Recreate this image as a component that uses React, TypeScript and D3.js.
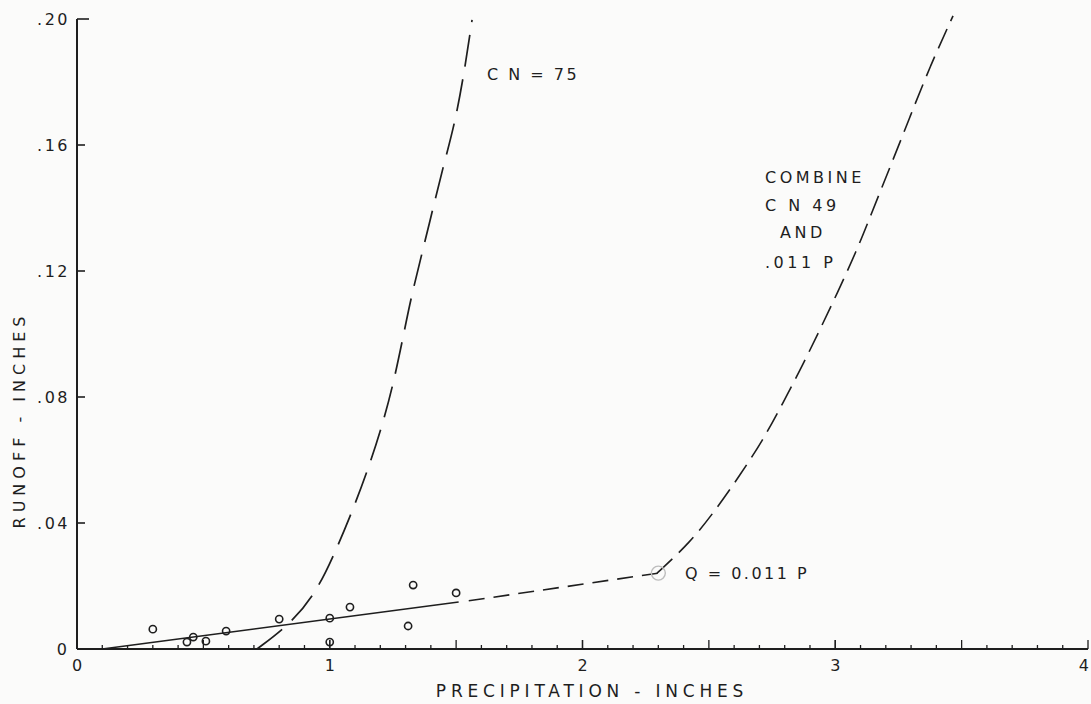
import * as d3 from 'd3';

// observed storms (precipitation, runoff) in inches
const observedP = [0.30, 0.435, 0.46, 0.51, 0.59, 0.80, 1.0, 1.0, 1.08, 1.31, 1.33, 1.50];
const observedQ = [0.0063, 0.0022, 0.0038, 0.0025, 0.0057, 0.0095, 0.0098, 0.0022, 0.0133, 0.0073, 0.0203, 0.0178];

// fitted line Q = 0.011 P (solid over the data, dashed beyond)
const fitSolidP = [0.1, 1.51];
const fitSolidQ = [0, 0.0149];
const fitDashP = [1.55, 2.3];
const fitDashQ = [0.0153, 0.0241];

// CN = 75 curve
const cn75P = [0.712, 0.855, 0.95, 1.013, 1.08, 1.147, 1.211, 1.258, 1.306, 1.329, 1.397, 1.448, 1.496, 1.536, 1.563];
const cn75Q = [0, 0.0086, 0.0187, 0.0292, 0.0419, 0.0559, 0.0717, 0.0863, 0.1054, 0.114, 0.136, 0.153, 0.167, 0.185, 0.1997];

// combined CN 49 and .011 P curve
const combP = [2.295, 2.425, 2.532, 2.623, 2.714, 2.793, 2.872, 2.94, 3.007, 3.086, 3.137, 3.217, 3.296, 3.375, 3.466];
const combQ = [0.0241, 0.0337, 0.0447, 0.0552, 0.0663, 0.0781, 0.0903, 0.1015, 0.1128, 0.1267, 0.137, 0.153, 0.169, 0.185, 0.201];

const xTicks = [0, 1, 2, 3, 4];
const xTickLabels = ['0', '1', '2', '3', '4'];
const yTicks = [0, 0.04, 0.08, 0.12, 0.16, 0.2];
const yTickLabels = ['0', '.04', '.08', '.12', '.16', '.20'];

const W = 1091;
const H = 704;
const ink = '#1e1e1e';
const font = '"DejaVu Sans", sans-serif';

const x = d3.scaleLinear().domain([0, 4]).range([77, 1088]);
const y = d3.scaleLinear().domain([0, 0.2]).range([649, 19]);

const line = d3.line<[number, number]>()
  .x(d => x(d[0]))
  .y(d => y(d[1]));

// hand-drawn curves: smooth through the read points
const smooth = d3.line<[number, number]>()
  .x(d => x(d[0]))
  .y(d => y(d[1]))
  .curve(d3.curveBasis);

const zip = (a: number[], b: number[]) => a.map((v, i) => [v, b[i]] as [number, number]);

const minorTicks = d3.range(1, 40).map(i => i / 10);

export default function App() {
  return (
    <svg width={W} height={H} style={{ position: 'absolute', left: 0, top: 0 }} fontFamily={font}>
      <rect width={W} height={H} fill="#fbfbfa" />

      {/* axes */}
      <line x1={x(0)} x2={x(0)} y1={y(0.2)} y2={y(0)} stroke={ink} strokeWidth={2} />
      <line x1={x(0)} x2={x(4)} y1={y(0)} y2={y(0)} stroke={ink} strokeWidth={2} />

      {yTicks.map((t, i) => (
        <g key={'y' + i}>
          {t > 0 && (
            <line x1={x(0)} x2={x(0) + (t === 0.2 ? 12 : 8)} y1={y(t)} y2={y(t)} stroke={ink} strokeWidth={1.6} />
          )}
          <text x={t === 0 ? 67 : 70} y={y(t)} dy="0.36em" textAnchor="end" fontSize={16}
            letterSpacing={t === 0 ? 0 : 2.5} fill={ink}>
            {yTickLabels[i]}
          </text>
        </g>
      ))}

      {minorTicks.map(t => {
        const half = Math.abs(t * 2 - Math.round(t * 2)) < 1e-6;
        return (
          <line key={'m' + t} x1={x(t)} x2={x(t)} y1={y(0)} y2={y(0) - (half ? 9 : 4)}
            stroke={ink} strokeWidth={1.3} />
        );
      })}
      {xTicks.map((t, i) => (
        <g key={'x' + i}>
          <line x1={x(t)} x2={x(t)} y1={y(0)} y2={y(0) - 9} stroke={ink} strokeWidth={1.3} />
          <text x={i === xTicks.length - 1 ? x(t) + 1 : x(t)} y={671}
            textAnchor={i === xTicks.length - 1 ? 'end' : 'middle'} fontSize={16} fill={ink}>
            {xTickLabels[i]}
          </text>
        </g>
      ))}

      {/* axis titles */}
      <text x={592} y={697} textAnchor="middle" fontSize={17} letterSpacing={4.8} fill={ink}>
        PRECIPITATION - INCHES
      </text>
      <text transform="translate(25,420) rotate(-90)" textAnchor="middle" fontSize={16} letterSpacing={5} fill={ink}>
        RUNOFF - INCHES
      </text>

      {/* fitted line */}
      <path d={line(zip(fitSolidP, fitSolidQ)) || ''} fill="none" stroke={ink} strokeWidth={1.6} />
      <path d={line(zip(fitDashP, fitDashQ)) || ''} fill="none" stroke={ink} strokeWidth={1.6} strokeDasharray="16,9" />

      {/* curves */}
      <path d={smooth(zip(cn75P, cn75Q)) || ''} fill="none" stroke={ink} strokeWidth={1.7} strokeDasharray="32,13" />
      <path d={smooth(zip(combP, combQ)) || ''} fill="none" stroke={ink} strokeWidth={1.6} strokeDasharray="21,9" />

      {/* observed points */}
      {observedP.map((p, i) => (
        <circle key={'o' + i} cx={x(p)} cy={y(observedQ[i])} r={3.6} fill="none" stroke={ink} strokeWidth={1.6} />
      ))}
      <circle cx={x(fitDashP[1])} cy={y(fitDashQ[1])} r={7} fill="none" stroke="#bdbdbd" strokeWidth={1.4} />

      {/* annotations */}
      <g fontSize={16} fill={ink} style={{ whiteSpace: 'pre' }}>
        <text x={487} y={80} letterSpacing={2.5}>C N = 75</text>
        <text x={765} y={183} letterSpacing={3.5}>COMBINE</text>
        <text x={765} y={211} letterSpacing={3.5}>C N  49</text>
        <text x={780} y={238} letterSpacing={3.5}>AND</text>
        <text x={765} y={268} letterSpacing={3.5}>.011 P</text>
        <text x={685} y={579} letterSpacing={2.5}>Q = 0.011 P</text>
      </g>
    </svg>
  );
}
